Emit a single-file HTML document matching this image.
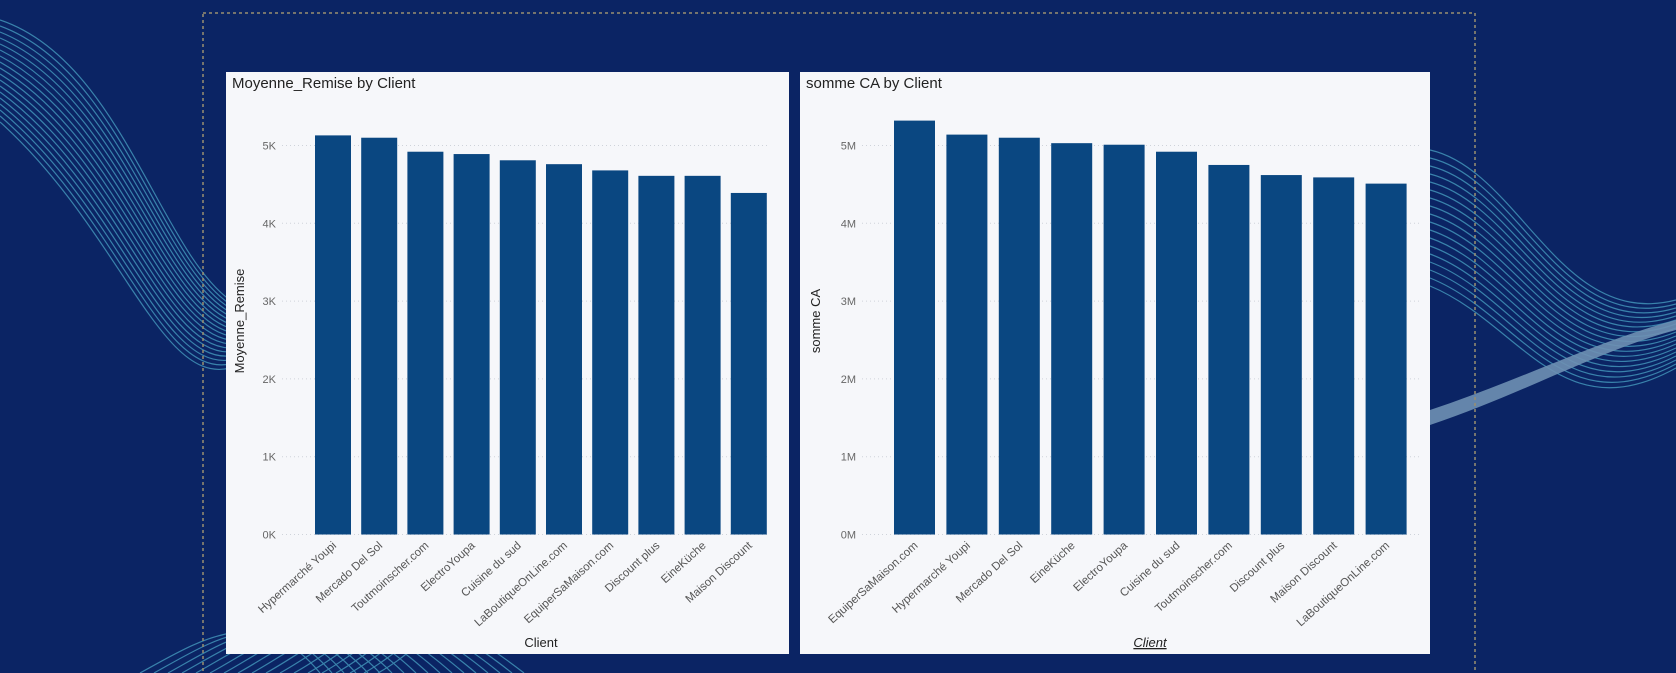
<!DOCTYPE html>
<html><head><meta charset="utf-8"><style>
body{margin:0;width:1676px;height:673px;overflow:hidden;background:#0b2464;font-family:"Liberation Sans",sans-serif}
svg{position:absolute;left:0;top:0}
</style></head><body>
<svg width="1676" height="673">
<g fill="none" stroke="#5fd0e6" stroke-width="1.2" opacity="0.55" id="waves"></g>
<rect x="203" y="13" width="1272" height="680" fill="none" stroke="#9a8f70" stroke-dasharray="3,3" stroke-width="1.5"/>
<g id="left"></g>
<g id="right"></g>
</svg>
<script>
const NS="http://www.w3.org/2000/svg";
function el(t,a,p){const e=document.createElementNS(NS,t);for(const k in a)e.setAttribute(k,a[k]);p.appendChild(e);return e;}
// waves
const w=document.getElementById('waves');
for(let i=0;i<18;i++){
 const p=el('path',{d:`M0 ${20+i*6} C120 ${60+i*10}, 160 ${250+i*8}, 230 ${300+i*4}`},w);
 
 const q=el('path',{d:`M1430 ${150+i*8} C1520 ${170+i*9}, 1560 ${330+i*6}, 1676 ${300+i*4}`},w);
 
 const r=el('path',{d:`M${140+i*14} 673 C${200+i*14} 640, ${260+i*10} 600, ${320+i*12} 673`},w);
 
}
el('path',{d:'M1430 410 C1520 380, 1600 340, 1676 320 L1676 330 C1600 350,1520 395,1430 425Z',fill:'#bfe9f4',stroke:'none',opacity:'0.9'},w);

const leftCats=["Hypermarché Youpi","Mercado Del Sol","Toutmoinscher.com","ElectroYoupa","Cuisine du sud","LaBoutiqueOnLine.com","EquiperSaMaison.com","Discount plus","EineKüche","Maison Discount"];
const leftVals=[5130,5100,4920,4890,4810,4760,4680,4610,4610,4390];
const leftTicks=["0K","1K","2K","3K","4K","5K"];
const rightCats=["EquiperSaMaison.com","Hypermarché Youpi","Mercado Del Sol","EineKüche","ElectroYoupa","Cuisine du sud","Toutmoinscher.com","Discount plus","Maison Discount","LaBoutiqueOnLine.com"];
const rightVals=[5320000,5140000,5100000,5030000,5010000,4920000,4750000,4620000,4590000,4510000];
const rightTicks=["0M","1M","2M","3M","4M","5M"];

function chart(g,c){
 const panel=el('rect',{x:c.px,y:72,width:c.pw,height:582,fill:'#f6f7fa'},g);
 
 const t=el('text',{x:c.px+6,y:88,'font-size':15,fill:'#222'},g);t.textContent=c.title;
 
 const y0=534.5,unit=77.8;
 const ys=v=>y0-v/c.div*unit;
 c.ticks.forEach((tk,i)=>{
  const y=y0-i*unit;
  const l=el('line',{x1:c.gx0,x2:c.gx1,y1:y,y2:y,stroke:'#cfd3da','stroke-dasharray':'1,3'},g);
  
  const tx=el('text',{x:c.gx0-6,y:y+4,'font-size':11,fill:'#666','text-anchor':'end'},g);tx.textContent=tk;
  
 });
 c.vals.forEach((v,i)=>{
  const x=c.bx+i*c.pitch;
  const b=el('rect',{x:x,y:ys(v),width:c.bw,height:y0-ys(v),fill:'#0a4781'},g);
  
  const cx=x+c.bw/2;
  const lb=el('text',{x:cx+4,y:y0+12,'font-size':11.5,fill:'#555','text-anchor':'end',transform:`rotate(-42 ${cx+4} ${y0+12})`},g);
  lb.textContent=c.cats[i];
  
 });
 const yt=el('text',{x:c.ytx,y:321,'font-size':13,fill:'#222','text-anchor':'middle',transform:`rotate(-90 ${c.ytx} 321)`},g);yt.textContent=c.ytitle;
 
 const xt=el('text',{x:c.xtx,y:647,'font-size':13,fill:'#222','text-anchor':'middle'},g);xt.textContent='Client';
 if(c.ital){xt.setAttribute('font-style','italic');xt.setAttribute('text-decoration','underline');}
 
}
chart(document.getElementById('left'),{px:226,pw:563,title:'Moyenne_Remise by Client',ticks:leftTicks,vals:leftVals,cats:leftCats,div:1000,gx0:282,gx1:770,bx:315,bw:36,pitch:46.2,ytx:244,ytitle:'Moyenne_Remise',xtx:541});
chart(document.getElementById('right'),{px:800,pw:630,title:'somme CA by Client',ticks:rightTicks,vals:rightVals,cats:rightCats,div:1000000,gx0:862,gx1:1422,bx:894,bw:41,pitch:52.4,ytx:820,ytitle:'somme CA',xtx:1150,ital:true});
</script>
</body></html>
